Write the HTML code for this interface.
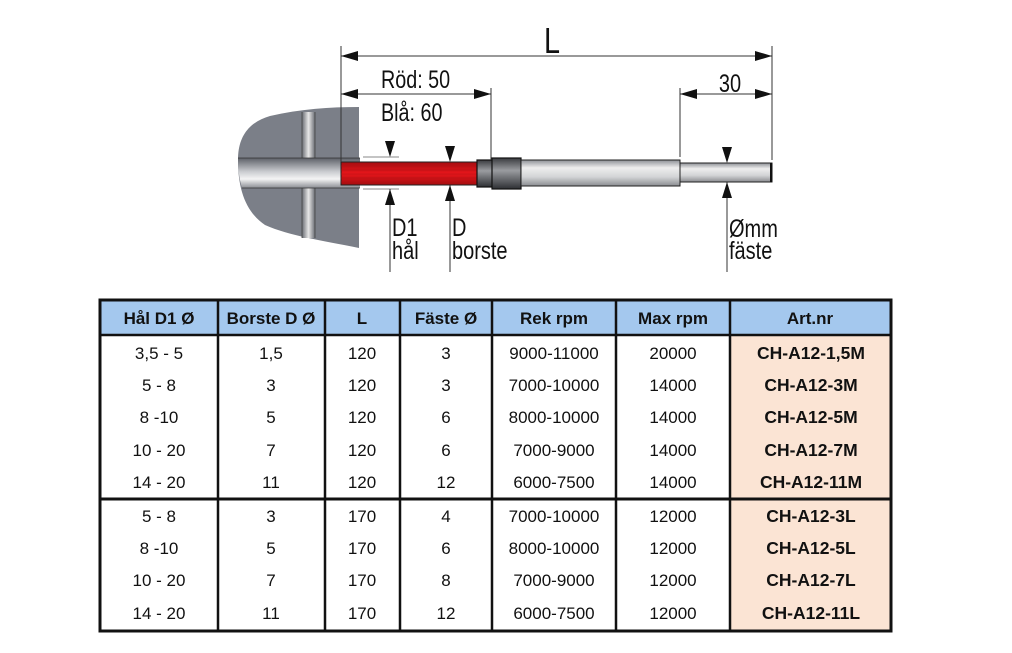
<!DOCTYPE html>
<html><head><meta charset="utf-8"><style>
html,body{margin:0;padding:0;background:#fff;width:1012px;height:653px;overflow:hidden}
svg{display:block}
.n{font-family:"Liberation Sans",sans-serif;fill:#111;font-size:25px}
.t{font-family:"Liberation Sans",sans-serif;font-size:17px;fill:#111;text-anchor:middle}
.h{font-family:"Liberation Sans",sans-serif;font-size:17px;font-weight:bold;fill:#111;text-anchor:middle}
.b{font-family:"Liberation Sans",sans-serif;font-size:17.5px;font-weight:bold;fill:#111;text-anchor:middle}
</style></head><body>
<svg width="1012" height="653" viewBox="0 0 1012 653" xmlns="http://www.w3.org/2000/svg">
<defs>
<linearGradient id="bore" x1="0" y1="0" x2="0" y2="1">
<stop offset="0" stop-color="#5d6068"/><stop offset="0.45" stop-color="#c9cbcf"/><stop offset="0.7" stop-color="#f4f4f4"/><stop offset="1" stop-color="#8a8d93"/></linearGradient>
<linearGradient id="vg" x1="0" y1="0" x2="1" y2="0">
<stop offset="0" stop-color="#6a6d74"/><stop offset="0.5" stop-color="#e8e8e8"/><stop offset="1" stop-color="#6a6d74"/></linearGradient>
<linearGradient id="shaft" x1="0" y1="0" x2="0" y2="1">
<stop offset="0" stop-color="#8d9096"/><stop offset="0.3" stop-color="#eeeeee"/><stop offset="0.65" stop-color="#d3d4d6"/><stop offset="1" stop-color="#8a8c90"/></linearGradient>
<linearGradient id="fer" x1="0" y1="0" x2="0" y2="1">
<stop offset="0" stop-color="#3a3c40"/><stop offset="0.4" stop-color="#9a9ca0"/><stop offset="1" stop-color="#2e3034"/></linearGradient>
<linearGradient id="red" x1="0" y1="0" x2="0" y2="1">
<stop offset="0" stop-color="#a50d10"/><stop offset="0.5" stop-color="#e8161b"/><stop offset="1" stop-color="#a50d10"/></linearGradient>
</defs>
<path d="M359,107 L359,248 C320,240 290,236 265,225 C246,212 238,190 238,160 C238,135 250,122 270,116 C300,109 330,107 359,107 Z" fill="#7b7f88"/>
<rect x="302" y="112" width="13" height="126" fill="url(#vg)"/>
<line x1="302" y1="112" x2="302" y2="238" stroke="#444" stroke-width="0.8"/>
<line x1="315" y1="112" x2="315" y2="238" stroke="#444" stroke-width="0.8"/>
<path d="M238,158 L360,158 L360,188 L242,188 C239,178 238,168 238,158Z" fill="url(#bore)"/>
<line x1="238" y1="158" x2="360" y2="158" stroke="#333" stroke-width="0.8"/>
<line x1="242" y1="188" x2="360" y2="188" stroke="#333" stroke-width="0.8"/>
<rect x="341" y="162" width="136" height="23" fill="url(#red)" stroke="#222" stroke-width="1"/>
<g stroke="#b01015" stroke-width="0.6">
<line x1="341" y1="166" x2="477" y2="166"/><line x1="341" y1="170" x2="477" y2="170"/><line x1="341" y1="174" x2="477" y2="174"/><line x1="341" y1="178" x2="477" y2="178"/><line x1="341" y1="182" x2="477" y2="182"/></g>
<rect x="477" y="160" width="18" height="27" fill="url(#fer)" stroke="#111" stroke-width="1.2"/>
<rect x="492" y="158" width="29" height="31" fill="url(#fer)" stroke="#111" stroke-width="1.2"/>
<rect x="521" y="160" width="159" height="26" fill="url(#shaft)" stroke="#222" stroke-width="1"/>
<rect x="680" y="163" width="92" height="19" fill="url(#shaft)" stroke="#222" stroke-width="1"/>
<rect x="770" y="163" width="2.5" height="19" fill="#111"/>
<g stroke="#333" stroke-width="1" fill="none">
<line x1="341" y1="46" x2="341" y2="162"/>
<line x1="772" y1="46" x2="772" y2="160"/>
<line x1="341" y1="56" x2="772" y2="56"/>
<line x1="341" y1="94" x2="491" y2="94"/>
<line x1="491" y1="88" x2="491" y2="160"/>
<line x1="680" y1="88" x2="680" y2="157"/>
<line x1="680" y1="94" x2="772" y2="94"/>
<line x1="363" y1="157" x2="399" y2="157" stroke="#888"/>
<line x1="363" y1="189" x2="399" y2="189" stroke="#888"/>
<line x1="390" y1="189" x2="390" y2="272"/>
<line x1="450" y1="185" x2="450" y2="272"/>
<line x1="727" y1="182" x2="727" y2="272"/>
</g>
<g fill="#111">
<path d="M341,56 l17,-5 v10z"/><path d="M772,56 l-17,-5 v10z"/>
<path d="M341,94 l17,-5 v10z"/><path d="M491,94 l-17,-5 v10z"/>
<path d="M680,94 l17,-5 v10z"/><path d="M772,94 l-17,-5 v10z"/>
<path d="M390,157 l-5,-16 h10z"/><path d="M390,189 l-5,16 h10z"/>
<path d="M450,162 l-5,-16 h10z"/><path d="M450,185 l-5,16 h10z"/>
<path d="M727,163 l-5,-16 h10z"/><path d="M727,182 l-5,16 h10z"/>
</g>
<g class="n">
<text transform="translate(552,53) scale(0.8,1)" font-size="36" text-anchor="middle">L</text>
<text transform="translate(381,88) scale(0.79,1)">Röd: 50</text>
<text transform="translate(381,121) scale(0.79,1)">Blå:  60</text>
<text transform="translate(730,92) scale(0.8,1)" text-anchor="middle">30</text>
<text transform="translate(392,236) scale(0.8,1)">D1</text>
<text transform="translate(392,259) scale(0.8,1)">hål</text>
<text transform="translate(452,236) scale(0.8,1)">D</text>
<text transform="translate(452,259) scale(0.8,1)">borste</text>
<text transform="translate(729,237) scale(0.8,1)">Ømm</text>
<text transform="translate(729,259) scale(0.8,1)">fäste</text>
</g>
<rect x="100" y="300" width="791" height="35" fill="#a4c8ee"/>
<rect x="730" y="335" width="161" height="296" fill="#fbe4d4"/>
<g stroke="#111" fill="none">
<rect x="100" y="300" width="791" height="331" stroke-width="3"/>
<line x1="100" y1="335" x2="891" y2="335" stroke-width="2.5"/>
<line x1="100" y1="499" x2="891" y2="499" stroke-width="3"/>
<g stroke-width="2.5">
<line x1="218" y1="300" x2="218" y2="631"/><line x1="325" y1="300" x2="325" y2="631"/>
<line x1="400" y1="300" x2="400" y2="631"/><line x1="492" y1="300" x2="492" y2="631"/>
<line x1="616" y1="300" x2="616" y2="631"/><line x1="730" y1="300" x2="730" y2="631"/>
</g></g>
<g class="h">
<text x="159" y="324">Hål D1 Ø</text><text x="271" y="324">Borste D Ø</text><text x="362" y="324">L</text>
<text x="446" y="324">Fäste Ø</text><text x="554" y="324">Rek rpm</text><text x="673" y="324">Max rpm</text><text x="810" y="324">Art.nr</text>
</g>
<g class="t">
<text x="159" y="359">3,5 - 5</text><text x="271" y="359">1,5</text><text x="362" y="359">120</text><text x="446" y="359">3</text><text x="554" y="359">9000-11000</text><text x="673" y="359">20000</text>
<text x="159" y="391">5 - 8</text><text x="271" y="391">3</text><text x="362" y="391">120</text><text x="446" y="391">3</text><text x="554" y="391">7000-10000</text><text x="673" y="391">14000</text>
<text x="159" y="423">8 -10</text><text x="271" y="423">5</text><text x="362" y="423">120</text><text x="446" y="423">6</text><text x="554" y="423">8000-10000</text><text x="673" y="423">14000</text>
<text x="159" y="456">10 - 20</text><text x="271" y="456">7</text><text x="362" y="456">120</text><text x="446" y="456">6</text><text x="554" y="456">7000-9000</text><text x="673" y="456">14000</text>
<text x="159" y="488">14 - 20</text><text x="271" y="488">11</text><text x="362" y="488">120</text><text x="446" y="488">12</text><text x="554" y="488">6000-7500</text><text x="673" y="488">14000</text>
<text x="159" y="522">5 - 8</text><text x="271" y="522">3</text><text x="362" y="522">170</text><text x="446" y="522">4</text><text x="554" y="522">7000-10000</text><text x="673" y="522">12000</text>
<text x="159" y="554">8 -10</text><text x="271" y="554">5</text><text x="362" y="554">170</text><text x="446" y="554">6</text><text x="554" y="554">8000-10000</text><text x="673" y="554">12000</text>
<text x="159" y="586">10 - 20</text><text x="271" y="586">7</text><text x="362" y="586">170</text><text x="446" y="586">8</text><text x="554" y="586">7000-9000</text><text x="673" y="586">12000</text>
<text x="159" y="619">14 - 20</text><text x="271" y="619">11</text><text x="362" y="619">170</text><text x="446" y="619">12</text><text x="554" y="619">6000-7500</text><text x="673" y="619">12000</text>
</g>
<g class="b">
<text x="811" y="359">CH-A12-1,5M</text><text x="811" y="391">CH-A12-3M</text><text x="811" y="423">CH-A12-5M</text>
<text x="811" y="456">CH-A12-7M</text><text x="811" y="488">CH-A12-11M</text><text x="811" y="522">CH-A12-3L</text>
<text x="811" y="554">CH-A12-5L</text><text x="811" y="586">CH-A12-7L</text><text x="811" y="619">CH-A12-11L</text>
</g>
</svg>
</body></html>
